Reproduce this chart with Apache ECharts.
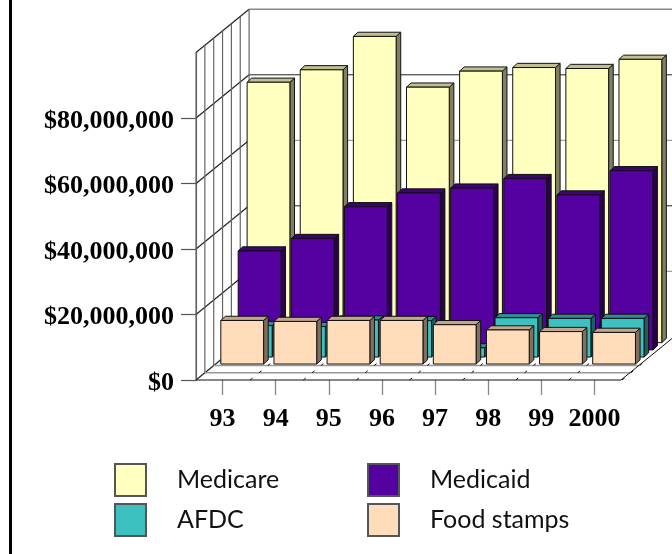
<!DOCTYPE html>
<html>
<head>
<meta charset="utf-8">
<style>html,body{margin:0;padding:0;background:#fff}#chart{width:672px;height:554px}</style>
<script src="https://cdn.jsdelivr.net/npm/echarts@6/dist/echarts.min.js"></script>
</head>
<body>
<div id="chart"></div>
<script>
// Program spending by year, dollars
const years = ['93', '94', '95', '96', '97', '98', '99', '2000'];
const medicare = [79500000, 83300000, 93500000, 78000000, 82900000, 84000000, 83700000, 86500000];
const medicaid = [30200000, 34000000, 43700000, 47900000, 49400000, 52300000, 47300000, 54700000];
const afdc = [9600000, 9300000, 11300000, 11100000, 2800000, 12000000, 11800000, 11800000];
const foodStamps = [13300000, 13000000, 13300000, 13300000, 12000000, 10400000, 9900000, 9650000];
const yTicks = [0, 20000000, 40000000, 60000000, 80000000, 100000000];
const labelledTicks = [0, 20000000, 40000000, 60000000, 80000000];

// Oblique projection of the depth axis: pixels per depth step
const STEP_X = 8.85, STEP_Y = 7.2, DEPTH_STEPS = 6;
const BAR_DEPTH_X = 4.6, BAR_DEPTH_Y = 4.2, BAR_WIDTH_RATIO = 0.805;

function shade(rgb, k) {
  return 'rgb(' + rgb.map(c => Math.round(c * k)).join(',') + ')';
}

// One extruded bar per category, set back along the depth axis by depthPos steps
function barSeries(name, values, rgb, depthPos) {
  return {
    name, type: 'custom', z: 3,
    itemStyle: { color: shade(rgb, 1), borderColor: '#555', borderWidth: 1 },
    encode: { x: 0, y: 1 },
    data: values.map((v, i) => [i, v]),
    renderItem(params, api) {
      const base = api.coord([api.value(0), 0]);
      const top = api.coord([api.value(0), api.value(1)]);
      const w = api.size([1, 0])[0] * BAR_WIDTH_RATIO;
      const ox = depthPos * STEP_X, oy = depthPos * STEP_Y;
      const l = base[0] - w / 2 + ox, r = l + w;
      const b = base[1] - oy, t = top[1] - oy;
      const stroke = { stroke: '#111', lineWidth: 1, lineJoin: 'round' };
      const dx = BAR_DEPTH_X, dy = BAR_DEPTH_Y;
      const poly = (points, fill) => ({
        type: 'polygon', shape: { points }, style: Object.assign({ fill }, stroke)
      });
      return {
        type: 'group',
        children: [
          poly([[r, b], [r + dx, b - dy], [r + dx, t - dy], [r, t]], shade(rgb, 0.5)),
          poly([[l, t], [r, t], [r + dx, t - dy], [l + dx, t - dy]], shade(rgb, 0.75)),
          poly([[l, b], [r, b], [r, t], [l, t]], shade(rgb, 1))
        ]
      };
    }
  };
}

// Back wall, side wall and floor of the box
const frameSeries = {
  type: 'custom', silent: true, z: 1,
  data: [[0]],
  renderItem(params, api) {
    const half = api.size([1, 0])[0] / 2;
    const depthX = DEPTH_STEPS * STEP_X, depthY = DEPTH_STEPS * STEP_Y;
    const left = api.coord([0, 0])[0] - half;
    const right = api.coord([years.length - 1, 0])[0] + half;
    const seg = (x1, y1, x2, y2, stroke, lineWidth) => ({
      type: 'line', shape: { x1, y1, x2, y2 }, style: { stroke, lineWidth: lineWidth || 1 }
    });
    const children = [];
    const yOf = v => api.coord([0, v])[1];
    const topY = yOf(yTicks[yTicks.length - 1]);
    const baseY = yOf(0);
    yTicks.forEach((v, i) => {
      const y = yOf(v);
      children.push(seg(left, y, left + depthX, y - depthY, '#222', 1.2));
      if (i > 0) children.push(seg(left + depthX, y - depthY, right + depthX, y - depthY, i % 2 ? '#888' : '#222', i === yTicks.length - 1 ? 1.5 : 1));
    });
    for (let s = 0; s <= DEPTH_STEPS; s++) {
      children.push(seg(left + s * STEP_X, baseY - s * STEP_Y, left + s * STEP_X, topY - s * STEP_Y, '#666', 1.2));
    }
    [1, 2].forEach(s => {
      children.push(seg(left + s * STEP_X, baseY - s * STEP_Y, right + s * STEP_X, baseY - s * STEP_Y, '#999', 1.5));
    });
    for (let i = 1; i <= years.length; i++) {
      const x = api.coord([i - 1, 0])[0] + half;
      [0, 1, 2].forEach(s => {
        children.push(seg(x + s * STEP_X + 1, baseY - s * STEP_Y, x + s * STEP_X + 3.5, baseY - s * STEP_Y - 2, '#111'));
      });
    }
    children.push(seg(left, baseY, right, baseY, '#111'));
    children.push(seg(right, baseY, right + depthX, baseY - depthY, '#111'));
    return { type: 'group', children };
  }
};

const moneyLabel = v => '$' + v.toLocaleString('en-US');
const axisFont = { fontFamily: 'Liberation Serif', fontWeight: 'bold', fontSize: 26, color: '#000' };
const legendBase = {
  orient: 'vertical', icon: 'rect', itemWidth: 31, itemHeight: 32, itemGap: 6, padding: 0,
  selectedMode: false,
  textStyle: { fontFamily: 'Lato', fontSize: 25, color: '#111', padding: [3, 0, 0, 26] }
};

const chart = echarts.init(document.getElementById('chart'), null, { renderer: 'canvas' });
chart.setOption({
  animation: false,
  backgroundColor: '#fff',
  grid: { left: 196, right: 51, top: 52.5, bottom: 174 },
  legend: [
    Object.assign({}, legendBase, { left: 114, top: 463, data: ['Medicare', 'AFDC'] }),
    Object.assign({}, legendBase, { left: 367, top: 463, data: ['Medicaid', 'Food stamps'] })
  ],
  xAxis: {
    type: 'category', data: years,
    axisLine: { show: false },
    axisTick: { show: true, alignWithLabel: true, length: 15, lineStyle: { color: '#888', width: 1.3 } },
    axisLabel: Object.assign({ margin: 26, interval: 0, hideOverlap: false }, axisFont)
  },
  yAxis: {
    type: 'value', min: 0, max: 100000000, interval: 20000000,
    splitLine: { show: false },
    axisLine: { show: true, lineStyle: { color: '#666', width: 1.2 } },
    axisTick: { show: true, length: 15, customValues: labelledTicks, lineStyle: { color: '#555', width: 1.2 } },
    axisLabel: Object.assign({ margin: 22, formatter: moneyLabel, customValues: labelledTicks, verticalAlign: 'top', lineHeight: 6 }, axisFont)
  },
  graphic: [{ type: 'rect', left: 9, top: 0, shape: { width: 3, height: 554 }, style: { fill: '#000' } }],
  series: [
    frameSeries,
    barSeries('Medicare', medicare, [255, 255, 192], 5.19),
    barSeries('Medicaid', medicaid, [85, 0, 160], 4.18),
    barSeries('AFDC', afdc, [60, 192, 192], 3.19),
    barSeries('Food stamps', foodStamps, [255, 221, 187], 2.22)
  ]
});
</script>
</body>
</html>
